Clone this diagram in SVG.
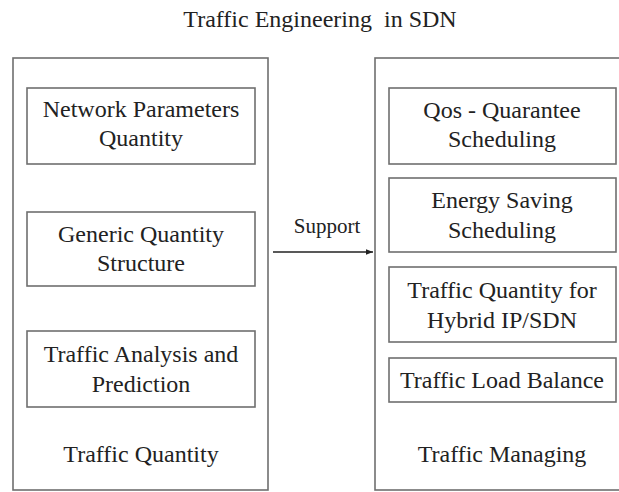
<svg xmlns="http://www.w3.org/2000/svg" width="619" height="492" viewBox="0 0 619 492">
  <style>
    .frame { fill: #ffffff; stroke: #6f6f6f; stroke-width: 1.6; }
    .box { fill: #ffffff; stroke: #6f6f6f; stroke-width: 1.6; }
    text { fill: #222222; text-anchor: middle; }
    .t { font-size: 24px; }
    .lbl { font-size: 21px; }
    .conn { stroke: #222222; stroke-width: 1.4; fill: none; }
  </style>
  <defs>
    <marker id="arrow" viewBox="0 0 10 10" refX="10" refY="5" markerWidth="7" markerHeight="7" markerUnits="userSpaceOnUse" orient="auto">
      <path d="M0,1 L10,5 L0,9 Z" fill="#222222"/>
    </marker>
  </defs>
  <rect width="619" height="492" fill="#ffffff"/>

  <g font-family="Liberation Serif, Times New Roman, serif">
  <text id="title" class="t" x="320" y="27" xml:space="preserve">Traffic Engineering  in SDN</text>

  <!-- Traffic Quantity column -->
  <g id="traffic-quantity">
    <rect class="frame" x="13" y="58" width="255" height="432"/>
    <text class="t" x="141" y="462">Traffic Quantity</text>
  </g>
  <g id="network-parameters">
    <rect class="box" x="27" y="88" width="228" height="76"/>
    <text class="t" x="141" y="117">Network Parameters</text>
    <text class="t" x="141" y="146">Quantity</text>
  </g>
  <g id="generic-quantity">
    <rect class="box" x="27" y="212" width="228" height="74"/>
    <text class="t" x="141" y="242">Generic Quantity</text>
    <text class="t" x="141" y="271">Structure</text>
  </g>
  <g id="traffic-analysis">
    <rect class="box" x="27" y="331" width="228" height="76"/>
    <text class="t" x="141" y="362">Traffic Analysis and</text>
    <text class="t" x="141" y="392">Prediction</text>
  </g>

  <!-- Traffic Managing column -->
  <g id="traffic-managing">
    <rect class="frame" x="375" y="58" width="260" height="432"/>
    <text class="t" x="502" y="462">Traffic Managing</text>
  </g>
  <g id="qos-scheduling">
    <rect class="box" x="389" y="88" width="227" height="76"/>
    <text class="t" x="502" y="118">Qos - Quarantee</text>
    <text class="t" x="502" y="147">Scheduling</text>
  </g>
  <g id="energy-saving">
    <rect class="box" x="389" y="178" width="227" height="74"/>
    <text class="t" x="502" y="208">Energy Saving</text>
    <text class="t" x="502" y="238">Scheduling</text>
  </g>
  <g id="hybrid-ip-sdn">
    <rect class="box" x="389" y="267" width="227" height="75"/>
    <text class="t" x="502" y="298">Traffic Quantity for</text>
    <text class="t" x="502" y="328">Hybrid IP/SDN</text>
  </g>
  <g id="load-balance">
    <rect class="box" x="389" y="358" width="227" height="44"/>
    <text class="t" x="502" y="388">Traffic Load Balance</text>
  </g>

  <!-- connectors -->
  <g id="connectors">
    <line class="conn" x1="273" y1="252" x2="373" y2="252" marker-end="url(#arrow)"/>
    <text class="lbl" x="327" y="233">Support</text>
  </g>
  </g>
</svg>
